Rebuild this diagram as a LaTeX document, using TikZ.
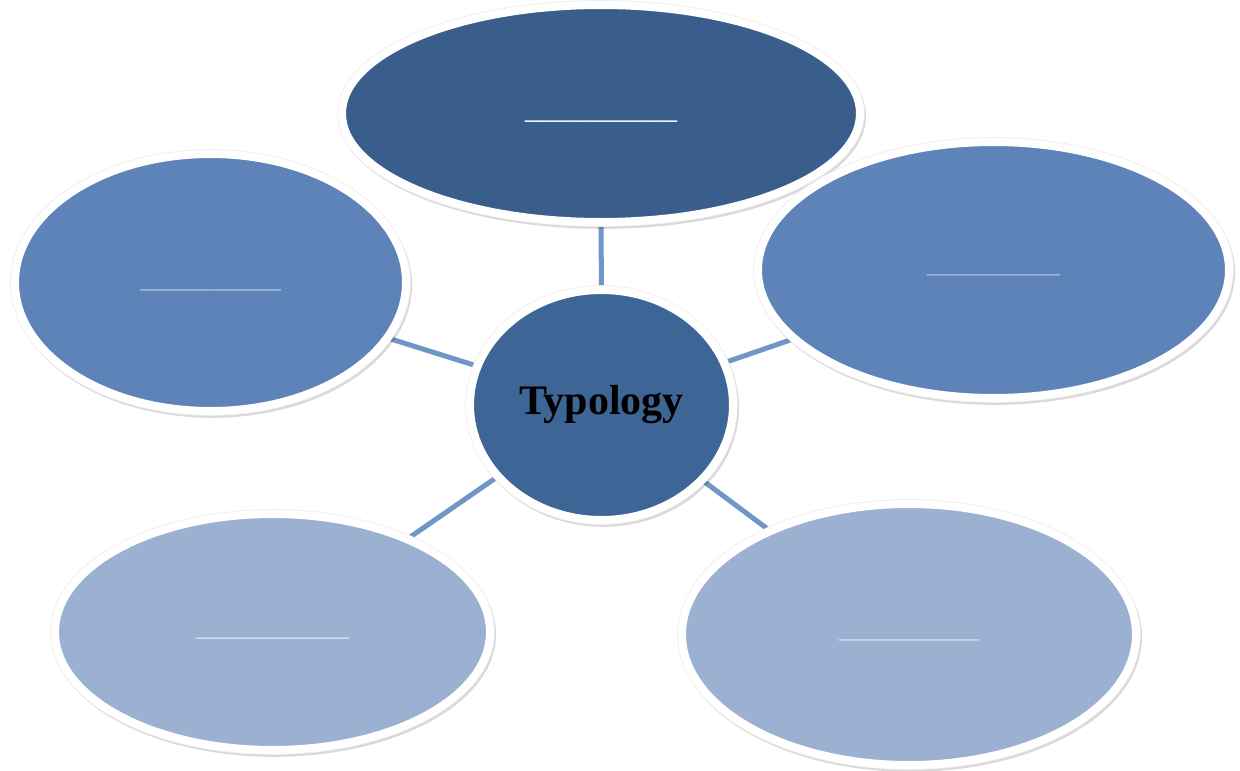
\documentclass[tikz,border=0pt]{standalone}
\usepackage{fontspec}
\setmainfont{Liberation Serif}
\usetikzlibrary{shapes.geometric,shadows,backgrounds}
\definecolor{topblue}{HTML}{3A5E8B}
\definecolor{hubblue}{HTML}{3D6696}
\definecolor{midblue}{HTML}{5E83B8}
\definecolor{lightblue}{HTML}{9CB0D2}
\definecolor{linkblue}{HTML}{7095C7}
\definecolor{blankmid}{HTML}{A9BEDD}
\definecolor{blanklight}{HTML}{D5DEEC}
\newcommand{\blankline}[2]{\raisebox{#2}{\fontsize{#1}{#1}\selectfont\_\_\_\_\_\_\_\_\_\_}}
\tikzset{
  bubble/.style={ellipse, draw=white, line width=6pt, inner sep=0pt,
    drop shadow={shadow xshift=1.2pt, shadow yshift=-1.8pt, opacity=0.15,
      fill=black, draw=black, line width=6.6pt},
    preaction={draw=black!7, line width=7.2pt}},
  blank/.style={bubble, text height=0pt, text depth=0pt},
  link/.style={draw=linkblue, line width=3.75pt}
}
\begin{document}
\begin{tikzpicture}[x=0.75pt, y=-0.75pt]
\useasboundingbox (0,0) rectangle (1240,771);
\node[blank, fill=topblue, minimum width=388.5pt, minimum height=162.75pt, text=white] (top) at (601,113.5) {\blankline{22.8pt}{-4pt}};
\node[blank, fill=midblue, minimum width=293.25pt, minimum height=192.75pt, text=blankmid] (left) at (210.5,282.5) {\blankline{21.15pt}{-3.5pt}};
\node[blank, fill=midblue, minimum width=353.25pt, minimum height=192pt, text=blankmid] (right) at (993.5,270) {\blankline{19.95pt}{-2pt}};
\node[blank, fill=lightblue, minimum width=326.25pt, minimum height=177pt, text=blanklight] (bl) at (272.5,632) {\blankline{22.95pt}{-2.5pt}};
\node[blank, fill=lightblue, minimum width=340.5pt, minimum height=195.75pt, text=blanklight] (br) at (909,634.5) {\blankline{21pt}{-2.5pt}};
\node[bubble, fill=hubblue, minimum width=197.25pt, minimum height=172.5pt, text=black] (hub) at (601.5,405) {\fontsize{31.5pt}{33pt}\selectfont\bfseries Typology};
\begin{scope}[on background layer]
\draw[link] (hub) -- (top);
\draw[link] (hub) -- (left);
\draw[link] (hub) -- (right);
\draw[link] (hub) -- (bl);
\draw[link] (hub) -- (br);
\end{scope}
\end{tikzpicture}
\end{document}
